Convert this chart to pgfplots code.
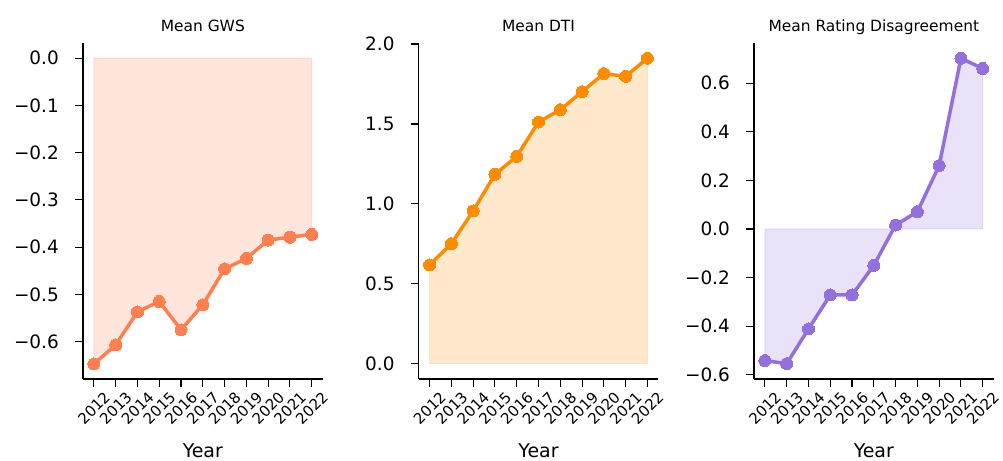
\documentclass[border=0pt]{standalone}
\usepackage{fontspec}
\setmainfont{DejaVu Sans}
\usepackage{pgfplots}
\pgfplotsset{compat=1.18}
\usepackage{pgfplotstable}

\definecolor{coral}{RGB}{255,127,80}
\definecolor{darkorange}{RGB}{255,140,0}
\definecolor{mediumpurple}{RGB}{147,112,219}

\pgfplotstableread{
year value
2012 -0.647
2013 -0.607
2014 -0.537
2015 -0.515
2016 -0.575
2017 -0.522
2018 -0.446
2019 -0.424
2020 -0.385
2021 -0.379
2022 -0.373
}\gws

\pgfplotstableread{
year value
2012 0.618
2013 0.751
2014 0.956
2015 1.185
2016 1.297
2017 1.512
2018 1.589
2019 1.702
2020 1.815
2021 1.798
2022 1.911
}\dti

\pgfplotstableread{
year value
2012 -0.542
2013 -0.555
2014 -0.412
2015 -0.272
2016 -0.272
2017 -0.150
2018 0.016
2019 0.071
2020 0.261
2021 0.703
2022 0.661
}\disagree

\pgfplotsset{
  panel/.style={
    scale only axis,
    width=239.6bp, height=336bp,
    anchor=south west,
    clip=false,
    axis x line*=bottom, axis y line*=left,
    axis line style={-, line width=1.1bp, black},
    every outer x axis line/.append style={-},
    every outer y axis line/.append style={-},
    tick align=outside,
    major tick length=8bp,
    tick style={black, line width=1.1bp},
    minor tick num=0,
    xmin=2011.5, xmax=2022.5,
    xtick={2012,2013,2014,2015,2016,2017,2018,2019,2020,2021,2022},
    xticklabels={2012,2013,2014,2015,2016,2017,2018,2019,2020,2021,2022},
    xticklabel style={font=\fontsize{15}{18}\selectfont, anchor=center, inner sep=0pt, yshift=-21bp, rotate=45},
    yticklabel style={font=\fontsize{18.5}{22}\selectfont, anchor=east, inner sep=0pt, xshift=-16bp},
    /pgf/number format/assume math mode=true,
    title style={font=\fontsize{15.5}{18}\selectfont, at={(0.5,1)}, anchor=base, yshift=6bp},
    xlabel={Year},
    xlabel style={font=\fontsize{19}{22}\selectfont, at={(0.5,0)}, anchor=base, yshift=-79bp},
  },
  series/.style={line width=3.5bp, line join=round, color=#1,
    mark=*, mark size=6bp, mark options={solid, fill=#1, draw=#1, line width=0pt}},
  band/.style={fill=#1, fill opacity=0.2, draw=#1, draw opacity=0.2, line width=1bp, forget plot},
}

\begin{document}
\begin{tikzpicture}[x=1bp,y=1bp]
\useasboundingbox (0,0) rectangle (1003,461);

% Mean GWS
\begin{axis}[panel, at={(83bp,82bp)},
  title={Mean GWS},
  ymin=-0.679, ymax=0.032,
  ytick={-0.6,-0.5,-0.4,-0.3,-0.2,-0.1,0},
  yticklabels={−0.6,−0.5,−0.4,−0.3,−0.2,−0.1,0.0}]
  \addplot[band=coral] table[x=year,y=value]{\gws} \closedcycle;
  \addplot[series=coral] table[x=year,y=value]{\gws};
\end{axis}

% Mean DTI
\begin{axis}[panel, at={(418.7bp,82bp)},
  title={Mean DTI},
  ymin=-0.0955, ymax=2.0065,
  ytick={0,0.5,1,1.5,2},
  yticklabels={0.0,0.5,1.0,1.5,2.0}]
  \addplot[band=darkorange] table[x=year,y=value]{\dti} \closedcycle;
  \addplot[series=darkorange] table[x=year,y=value]{\dti};
\end{axis}

% Mean Rating Disagreement
\begin{axis}[panel, at={(754bp,82bp)},
  title={Mean Rating Disagreement},
  ymin=-0.618, ymax=0.766,
  ytick={-0.6,-0.4,-0.2,0,0.2,0.4,0.6},
  yticklabels={−0.6,−0.4,−0.2,0.0,0.2,0.4,0.6}]
  \addplot[band=mediumpurple] table[x=year,y=value]{\disagree} \closedcycle;
  \addplot[series=mediumpurple] table[x=year,y=value]{\disagree};
\end{axis}
\end{tikzpicture}
\end{document}
